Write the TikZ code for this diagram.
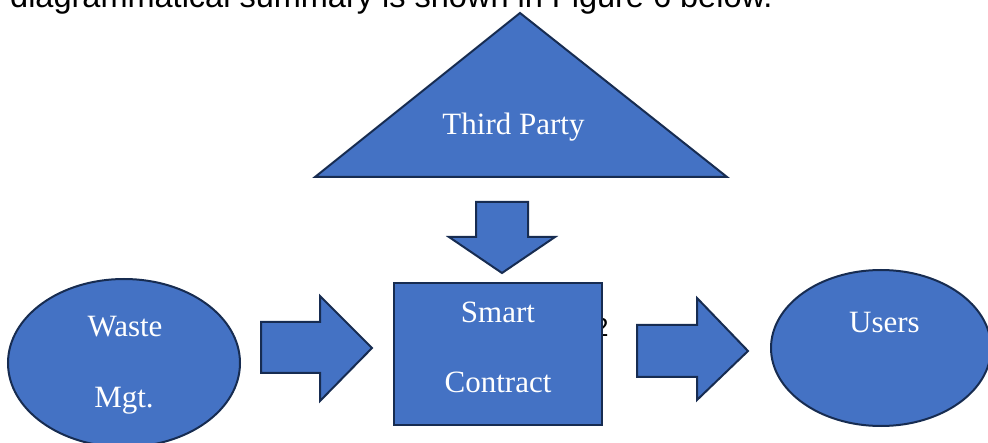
\documentclass[tikz,border=0pt]{standalone}
\usepackage{fontspec}
\setmainfont{Liberation Serif}
\newfontfamily\arialfont{Liberation Sans}
\usetikzlibrary{shapes.geometric}
\definecolor{shapefill}{HTML}{4472C4}
\definecolor{shapeline}{HTML}{172C51}
\tikzset{
  blueshape/.style={fill=shapefill, draw=shapeline, line width=2pt, line join=miter},
  shapetext/.style={text=white, font=\fontsize{31}{37}\selectfont, anchor=base, inner sep=0pt},
}
\begin{document}
\begin{tikzpicture}[x=1pt,y=-1pt]
\useasboundingbox (0,0) rectangle (988,443);
\clip (0,0) rectangle (988,443);
% caption text cut off at the top
\node[anchor=base west, inner sep=0pt, font=\arialfont\fontsize{32.5}{38}\selectfont] (caption) at (10,8) {diagrammatical summary is shown in Figure 6 below.};
% page number peeking out
\node[anchor=base west, inner sep=0pt, font=\arialfont\fontsize{26}{30}\selectfont] (pagenum) at (594,337) {2};
% Third party triangle
\draw[blueshape] (520,13) -- (727,177) -- (315,177) -- cycle;
\node[shapetext] (third) at (513.5,135) {Third Party};
% down arrow
\draw[blueshape] (476,202) -- (528,202) -- (528,237) -- (555,237) -- (502,273) -- (449,237) -- (476,237) -- cycle;
% smart contract box
\draw[blueshape] (394,283) rectangle (602,425);
\node[shapetext] (smart) at (498,323) {Smart};
\node[shapetext] (contract) at (498,393) {Contract};
% waste ellipse
\draw[blueshape] (124,363) ellipse [x radius=116, y radius=84];
\node[shapetext] (waste) at (125,337) {Waste};
\node[shapetext] (mgt) at (124,408) {Mgt.};
% left arrow
\draw[blueshape] (261,322) -- (320,322) -- (320,296) -- (372,348) -- (320,401) -- (320,373) -- (261,373) -- cycle;
% right arrow
\draw[blueshape] (637,325) -- (697,325) -- (697,298) -- (748,351) -- (697,400) -- (697,377) -- (637,377) -- cycle;
% users ellipse
\draw[blueshape] (881,348) ellipse [x radius=110, y radius=78];
\node[shapetext] (users) at (884.5,333) {Users};
\end{tikzpicture}
\end{document}
